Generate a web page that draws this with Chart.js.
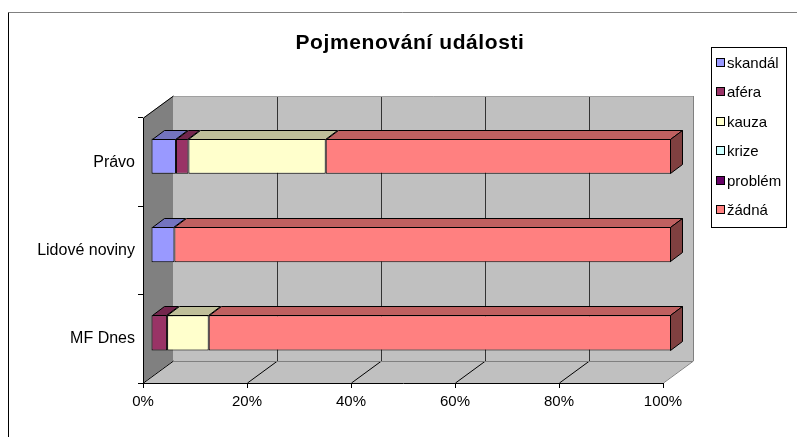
<!DOCTYPE html>
<html><head><meta charset="utf-8">
<script src="https://cdn.jsdelivr.net/npm/chart.js@4/dist/chart.umd.min.js"></script>
<style>html,body{margin:0;padding:0;background:#fff}</style>
</head><body>
<canvas id="c" width="797" height="437"></canvas>
<script>
const titleText = 'Pojmenování události';
const categories = ['Právo', 'Lidové noviny', 'MF Dnes'];
const seriesNames = ['skandál', 'aféra', 'kauza', 'krize', 'problém', 'žádná'];
const seriesColors = ['#9999FF', '#993366', '#FFFFCC', '#CCFFFF', '#660066', '#FF8080'];
const skandal = [4.8, 4.5, 0];
const afera   = [2.4, 0, 3.1];
const kauza   = [26.4, 0, 8.0];
const krize   = [0, 0, 0];
const problem = [0, 0, 0];
const zadna   = [66.4, 95.5, 88.9];
const xTickValues = [0, 20, 40, 60, 80, 100];

const seriesValues = [skandal, afera, kauza, krize, problem, zadna];
const FONT = "'Liberation Sans', Arial, sans-serif";
const WALL = {dx: 30, dy: -22};
const BARPOS = {dx: 8, dy: -6};
const BARD = {dx: 12, dy: -9};

function shade(hex, f) {
  const n = parseInt(hex.slice(1), 16);
  const r = Math.round(((n >> 16) & 255) * f), g = Math.round(((n >> 8) & 255) * f), b = Math.round((n & 255) * f);
  return `rgb(${r},${g},${b})`;
}
function poly(ctx, pts, fill, stroke) {
  ctx.beginPath();
  ctx.moveTo(pts[0][0], pts[0][1]);
  for (let i = 1; i < pts.length; i++) ctx.lineTo(pts[i][0], pts[i][1]);
  ctx.closePath();
  if (fill) { ctx.fillStyle = fill; ctx.fill(); }
  if (stroke) { ctx.strokeStyle = stroke; ctx.lineWidth = 1; ctx.stroke(); }
}
function line(ctx, x1, y1, x2, y2, color) {
  ctx.beginPath(); ctx.moveTo(x1, y1); ctx.lineTo(x2, y2);
  ctx.strokeStyle = color; ctx.lineWidth = 1; ctx.stroke();
}

const plugin3d = {
  id: 'excel3d',
  beforeDraw(chart) {
    const ctx = chart.ctx, a = chart.chartArea, xs = chart.scales.x;
    const L = a.left, R = a.right, T = a.top, B = a.bottom;
    ctx.save();
    line(ctx, 8.5, 12.5, 797, 12.5, '#808080');
    line(ctx, 8.5, 12.5, 8.5, 437, '#000');
    ctx.fillStyle = '#000';
    ctx.font = "bold 21px " + FONT;
    if ('letterSpacing' in ctx) ctx.letterSpacing = '0.6px';
    ctx.textAlign = 'center'; ctx.textBaseline = 'middle';
    ctx.fillText(titleText, 410, 43);
    if ('letterSpacing' in ctx) ctx.letterSpacing = '0px';
    poly(ctx, [[L + WALL.dx, T + WALL.dy], [R + WALL.dx, T + WALL.dy], [R + WALL.dx, B + WALL.dy], [L + WALL.dx, B + WALL.dy]], '#C0C0C0', null);
    poly(ctx, [[L, T], [L + WALL.dx, T + WALL.dy], [L + WALL.dx, B + WALL.dy], [L, B]], '#808080', null);
    poly(ctx, [[L, B], [L + WALL.dx, B + WALL.dy], [R + WALL.dx, B + WALL.dy], [R, B]], '#C0C0C0', null);
    xTickValues.forEach((v, i) => {
      const px = Math.round(xs.getPixelForValue(v)) + 0.5;
      if (i > 0 && i < xTickValues.length - 1) {
        line(ctx, px + WALL.dx, T + WALL.dy, px + WALL.dx, B + WALL.dy, '#333');
      }
      line(ctx, px, B, px + WALL.dx, B + WALL.dy, i === xTickValues.length - 1 ? '#808080' : '#000');
    });
    line(ctx, L + WALL.dx + 0.5, T + WALL.dy + 0.5, R + WALL.dx + 0.5, T + WALL.dy + 0.5, '#A0A0A0');
    line(ctx, R + WALL.dx + 0.5, T + WALL.dy, R + WALL.dx + 0.5, B + WALL.dy, '#808080');
    line(ctx, L + WALL.dx, B + WALL.dy + 0.5, R + WALL.dx, B + WALL.dy + 0.5, '#808080');
    line(ctx, L + 0.5, T, L + WALL.dx + 0.5, T + WALL.dy, '#000');
    ctx.restore();
  },
  beforeDatasetsDraw(chart) {
    chart.ctx.save();
    chart.ctx.translate(BARPOS.dx, BARPOS.dy);
  },
  afterDatasetsDraw(chart) {
    const ctx = chart.ctx;
    const ends = {};
    chart.data.datasets.forEach((ds, di) => {
      const meta = chart.getDatasetMeta(di);
      meta.data.forEach((el, i) => {
        if (!ds.data[i]) return;
        const p = el.getProps(['x', 'y', 'base', 'height'], true);
        const l = Math.min(p.x, p.base), r = Math.max(p.x, p.base);
        const t = Math.round(p.y - p.height / 2) + 0.5, b = Math.round(p.y + p.height / 2) - 0.5;
        const lr = Math.round(l) + 0.5, rr = Math.round(r) - 0.5;
        poly(ctx, [[lr, t], [rr, t], [rr + BARD.dx, t + BARD.dy], [lr + BARD.dx, t + BARD.dy]], shade(seriesColors[di], 0.75), '#000');
        if (!ends[i] || r > ends[i].r) ends[i] = {r: rr, t, b, c: seriesColors[di]};
      });
    });
    Object.values(ends).forEach(e => {
      poly(ctx, [[e.r, e.t], [e.r + BARD.dx, e.t + BARD.dy], [e.r + BARD.dx, e.b + BARD.dy], [e.r, e.b]], shade(e.c, 0.5), '#000');
    });
    ctx.restore();
  },
  afterDraw(chart) {
    const ctx = chart.ctx;
    ctx.save();
    ctx.fillStyle = '#fff';
    ctx.fillRect(711.5, 47.5, 75, 180);
    ctx.strokeStyle = '#000'; ctx.lineWidth = 1;
    ctx.strokeRect(711.5, 47.5, 75, 180);
    ctx.font = "15px " + FONT;
    ctx.textAlign = 'left'; ctx.textBaseline = 'middle';
    chart.data.datasets.forEach((ds, i) => {
      const y = Math.round(63 + i * 29.4);
      ctx.fillStyle = ds.backgroundColor;
      ctx.fillRect(716.5, y - 4.5, 8, 8);
      ctx.strokeRect(716.5, y - 4.5, 8, 8);
      ctx.fillStyle = '#000';
      ctx.fillText(ds.label, 727, y + 1);
    });
    ctx.restore();
  }
};

new Chart(document.getElementById('c'), {
  type: 'bar',
  data: {
    labels: categories,
    datasets: seriesNames.map((name, i) => ({
      label: name,
      data: seriesValues[i],
      backgroundColor: seriesColors[i],
      borderColor: '#000',
      borderWidth: 1,
      borderSkipped: false,
      categoryPercentage: 1,
      barPercentage: 0.4
    }))
  },
  options: {
    responsive: false,
    animation: false,
    indexAxis: 'y',
    layout: {padding: {left: 0, right: 134, top: 118, bottom: 0}},
    plugins: {legend: {display: false}, title: {display: false}, tooltip: {enabled: false}},
    scales: {
      x: {
        stacked: true, min: 0, max: 100,
        afterBuildTicks: s => { s.ticks = xTickValues.map(v => ({value: v})); },
        ticks: {callback: v => v + '%', color: '#000', font: {family: FONT, size: 15}, padding: 5, maxRotation: 0, autoSkip: false},
        grid: {drawOnChartArea: false, tickLength: 5, color: '#000', offset: false},
        border: {color: '#000', width: 1},
        afterFit: s => { s.height = 54; }
      },
      y: {
        stacked: true,
        ticks: {color: '#000', font: {family: FONT, size: 16}, padding: 3},
        grid: {drawOnChartArea: false, tickLength: 5, color: '#000', offset: true},
        border: {color: '#000', width: 1},
        afterFit: s => { s.width = 143; }
      }
    }
  },
  plugins: [plugin3d]
});
</script>
</body></html>
